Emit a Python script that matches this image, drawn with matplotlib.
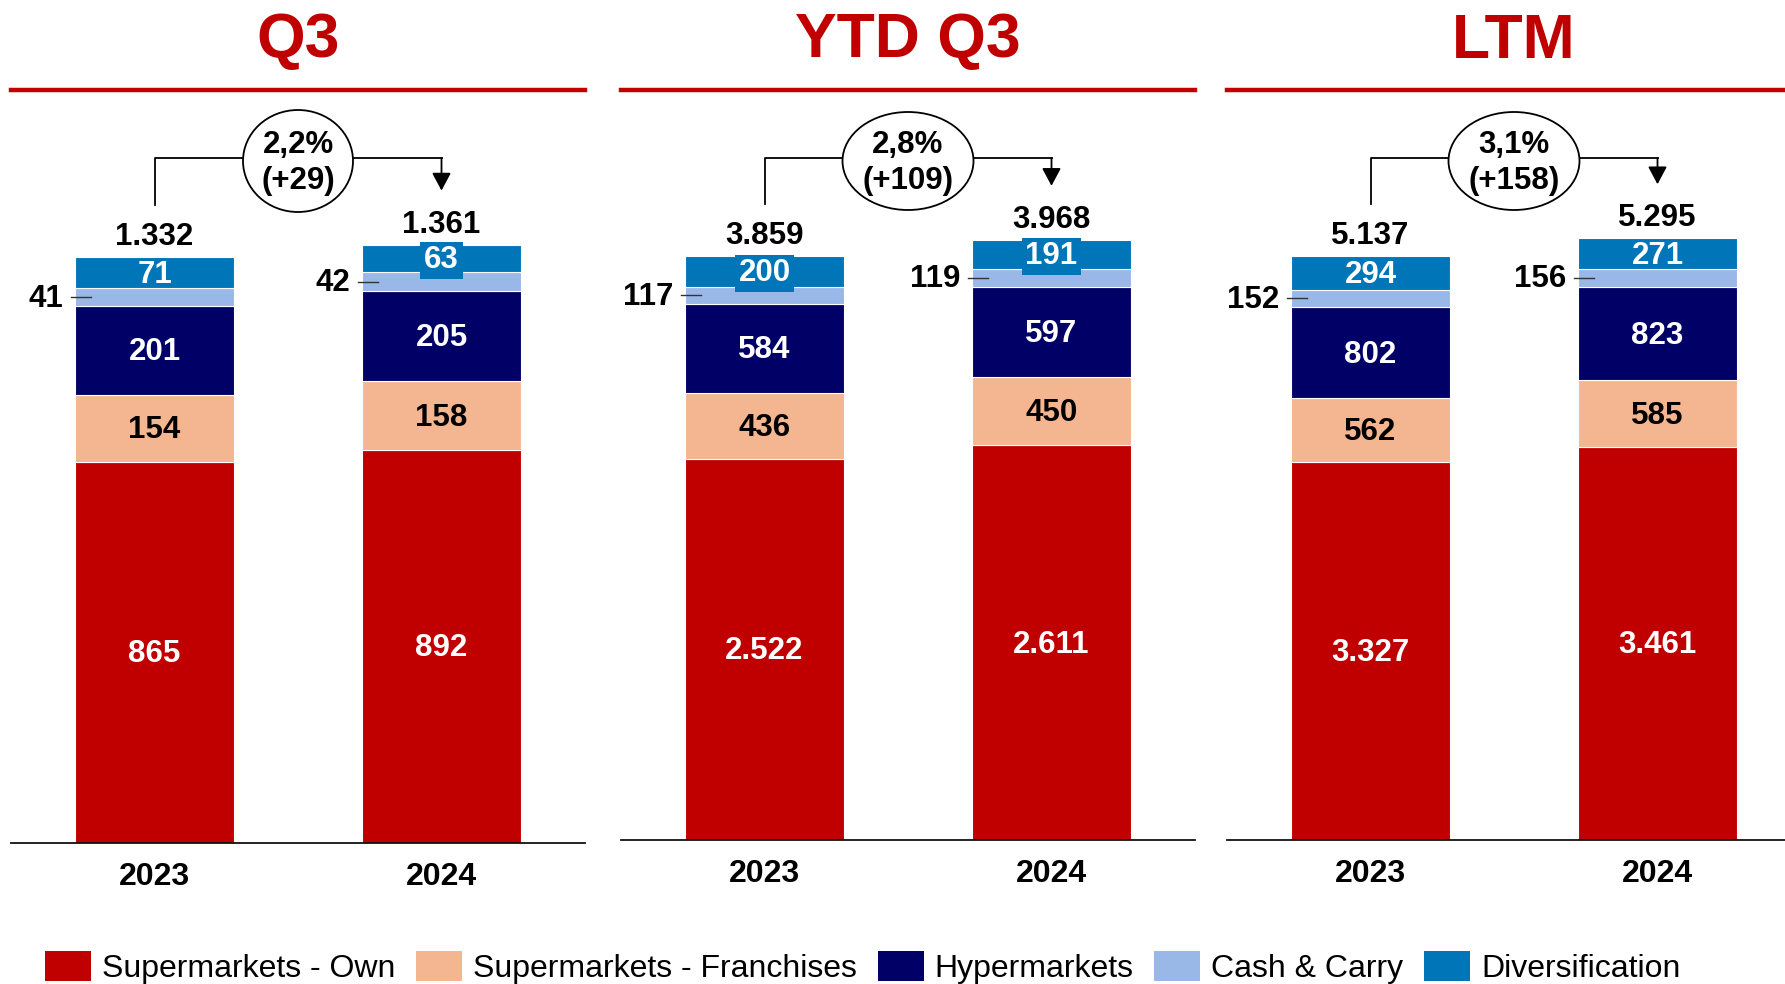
import numpy as np
import matplotlib.pyplot as plt
from matplotlib.patches import Ellipse, Patch
from matplotlib.lines import Line2D

plt.rcParams['font.family'] = ['Liberation Sans', 'DejaVu Sans']

# ---- Data ----
panels   = ["Q3", "YTD Q3", "LTM"]
years    = ["2023", "2024"]
series   = ["Supermarkets - Own", "Supermarkets - Franchises", "Hypermarkets",
            "Cash & Carry", "Diversification"]
colors   = ["#C00000", "#F4B690", "#000066", "#99B8E8", "#0075B8"]
txt_col  = ["white", "black", "white", None, "white"]

# values[panel][year] -> own, franchises, hyper, cash&carry, diversification
values = [
    [[865, 154, 201, 41, 71], [892, 158, 205, 42, 63]],
    [[2522, 436, 584, 117, 200], [2611, 450, 597, 119, 191]],
    [[3327, 562, 802, 152, 294], [3461, 585, 823, 156, 271]],
]
totals  = [["1.332", "1.361"], ["3.859", "3.968"], ["5.137", "5.295"]]
growth  = ["2,2%\n(+29)", "2,8%\n(+109)", "3,1%\n(+158)"]


def fmt(v):
    return f"{v:,}".replace(",", ".")


# ---- Layout (pixels) ----
W, H, DPI = 1785, 984, 100
boxes = [(11, 585, 842.5), (621, 1195, 840), (1227, 1801, 840)]  # left, right, bottom
TOP = 90
ell_w = [110, 131, 131]
ell_h = [102, 98, 98]
bar_w = 0.554
FS = 22.5

fig = plt.figure(figsize=(W / DPI, H / DPI), dpi=DPI)

for p, (l, r, b) in enumerate(boxes):
    ax = fig.add_axes([l / W, 1 - b / H, (r - l) / W, (b - TOP) / H])
    tot23 = sum(values[p][0])
    ytop = tot23 * 1.285
    ax.set_ylim(0, ytop)
    ax.set_xlim(-0.5, 1.5)
    u = ytop / (b - TOP)            # data units per pixel (y)
    ux = 2.0 / (r - l)              # data units per pixel (x)

    def ypx(py):
        return (b - py) * u

    tops = []
    for i in range(2):
        vals = values[p][i]
        bottom = 0
        for s, v in enumerate(vals):
            ax.bar(i, v, bar_w, bottom=bottom, color=colors[s],
                   edgecolor="white", linewidth=0.8, zorder=2)
            mid = bottom + v / 2
            if s == 3:
                xl = i - bar_w / 2
                ax.text(xl - 12 * ux, mid - 1.5 * u, fmt(v), ha="right",
                        va="center", fontsize=FS, fontweight="bold",
                        color="black")
                ax.plot([xl - 4 * ux, xl + 16 * ux], [mid, mid],
                        color="#333333", lw=1.0, zorder=3)
            else:
                kw = {}
                if v / u < 30.5:
                    kw["bbox"] = dict(boxstyle="square,pad=0.12", fc=colors[s],
                                      ec="none")
                ax.text(i, mid - 2 * u, fmt(v), ha="center", va="center",
                        fontsize=FS, fontweight="bold", color=txt_col[s],
                        zorder=4, **kw)
            bottom += v
        tops.append(bottom)
        ax.text(i, bottom + 12 * u, totals[p][i], ha="center", va="baseline",
                fontsize=FS, fontweight="bold", color="black")

    # growth bracket
    yl = ypx(158)
    ax.plot([0, 0, 1], [tops[0] + 52 * u, yl, yl], color="black", lw=1.3,
            clip_on=False, zorder=3)
    ax.annotate("", xy=(1, tops[1] + 54 * u), xytext=(1, yl),
                arrowprops=dict(arrowstyle="-|>,head_length=0.9,head_width=0.48",
                                mutation_scale=12, color="black", lw=1.3,
                                shrinkA=0, shrinkB=0),
                annotation_clip=False)
    ax.add_patch(Ellipse((0.5, ypx(161)), ell_w[p] * ux, ell_h[p] * u,
                         facecolor="white", edgecolor="black", lw=1.3,
                         clip_on=False, zorder=5))
    ax.text(0.5, ypx(163), growth[p], ha="center", va="center",
            fontsize=FS, fontweight="bold", linespacing=1.3, zorder=6)

    # title and red rule
    ax.text(0.5, ypx(41), panels[p], ha="center", va="center", fontsize=45,
            fontweight="bold", color="#C00000", clip_on=False)
    ax.add_line(Line2D([0, 1], [1, 1], transform=ax.transAxes, color="#C00000",
                       lw=3.2, clip_on=False))

    for sp in ["top", "left", "right"]:
        ax.spines[sp].set_visible(False)
    ax.spines["bottom"].set_linewidth(1.3)
    ax.spines["bottom"].set_color("#111111")
    ax.set_yticks([])
    ax.set_xticks([0, 1])
    ax.set_xticklabels(years, fontsize=23, fontweight="bold")
    ax.tick_params(axis="x", length=0, pad=14)
    ax.patch.set_alpha(0)

handles = [Patch(facecolor=c, edgecolor="none") for c in colors]
fig.legend(handles, series, loc="lower left", bbox_to_anchor=(45 / W, 0.0),
           ncol=5, frameon=False, fontsize=23, handlelength=1.45,
           handleheight=1.05, handletextpad=0.34, columnspacing=0.64,
           borderpad=0, borderaxespad=0)

fig.savefig("out.png", dpi=DPI)
